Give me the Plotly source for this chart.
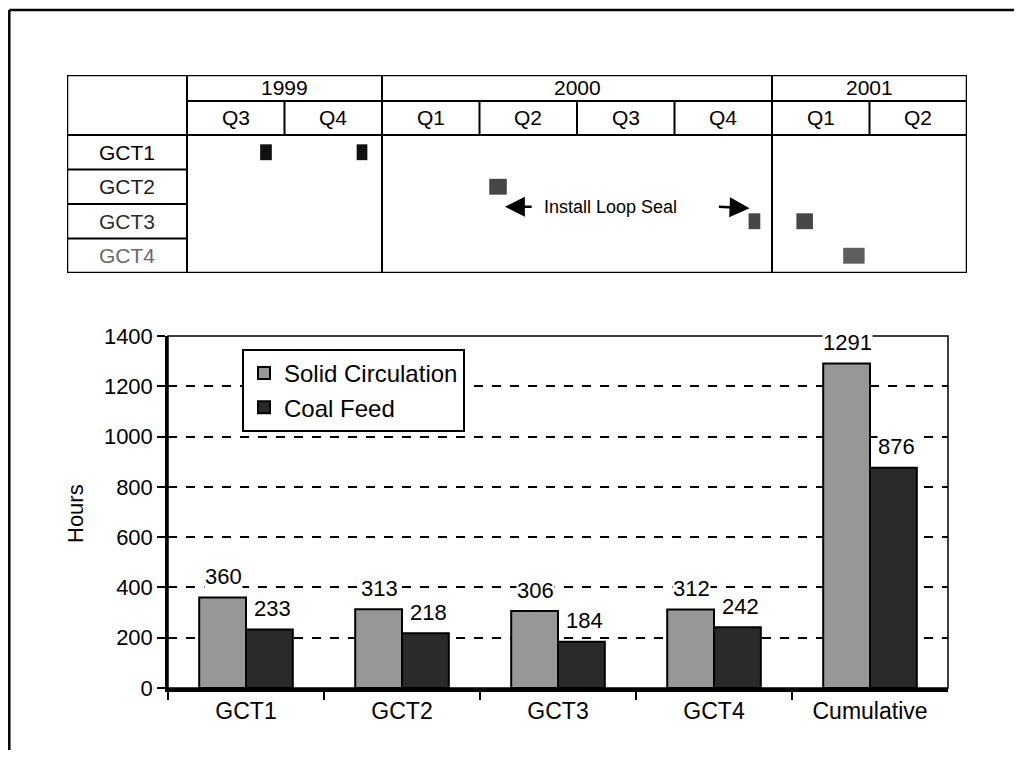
import plotly.graph_objects as go

# ---------------- data ----------------
categories = ["GCT1", "GCT2", "GCT3", "GCT4", "Cumulative"]
solid_circulation = [360, 313, 306, 312, 1291]
coal_feed = [233, 218, 184, 242, 876]

units = ["GCT1", "GCT2", "GCT3", "GCT4"]
unit_label_colors = ["#000000", "#1e1e1e", "#2e2e2e", "#6a6a6a"]
years = ["1999", "2000", "2001"]
year_quarter_counts = [2, 4, 2]
quarters = ["Q3", "Q4", "Q1", "Q2", "Q3", "Q4", "Q1", "Q2"]

# test campaigns, in quarters counted from the start of Q3 1999
test_unit = ["GCT1", "GCT1", "GCT2", "GCT3", "GCT3", "GCT4"]
test_start_q = [0.75, 1.74, 3.10, 5.76, 6.25, 6.73]
test_end_q = [0.87, 1.85, 3.28, 5.88, 6.42, 6.95]
test_colors = ["#111111", "#111111", "#474747", "#474747", "#474747", "#5e5e5e"]

loop_seal_label = "Install Loop Seal"
loop_seal_start_q = 3.26
loop_seal_end_q = 5.77

# ---------------- layout helpers ----------------
OX, OY = 8, 8                 # page body margin
W, H = 1014, 742
FONT = "Liberation Sans, Arial, Helvetica, sans-serif"


def px_x(p):
    return (p - OX) / W


def px_y(p):
    return 1 - (p - OY) / H


n_q = len(quarters)
label_col = -1.2308          # label column width in quarter units
n_units = len(units)
q_row_top = n_units + 0.986
y_row_top = q_row_top + 0.753

fig = go.Figure()

# ---------------- bar chart ----------------
fig.add_trace(go.Bar(
    name="Solid Circulation", x=categories, y=solid_circulation,
    marker=dict(color="#979797", line=dict(color="black", width=2)),
    legendgroup="a",
))
fig.add_trace(go.Bar(
    name="Coal Feed", x=categories, y=coal_feed,
    marker=dict(color="#2a2a2a", line=dict(color="black", width=2)),
    legendgroup="b",
))

# ---------------- gantt markers in table ----------------
unit_row = {u: n_units - 1 - i + 0.5 for i, u in enumerate(units)}
fig.add_trace(go.Bar(
    orientation="h",
    y=[unit_row[u] for u in test_unit],
    base=test_start_q,
    x=[e - s for s, e in zip(test_start_q, test_end_q)],
    width=0.46,
    marker=dict(color=test_colors, line=dict(width=0)),
    xaxis="x2", yaxis="y2", showlegend=False, hoverinfo="skip",
))

shapes = []
# outer image frame (top and left)
frame_left = 1.3 / W
shapes.append(dict(type="line", xref="paper", yref="paper", x0=frame_left, x1=1.0,
                   y0=px_y(10), y1=px_y(10), line=dict(color="black", width=2.5)))
shapes.append(dict(type="line", xref="paper", yref="paper", x0=frame_left, x1=frame_left,
                   y0=px_y(10), y1=0, line=dict(color="black", width=2.5)))
# plot frame
shapes.append(dict(type="rect", xref="x domain", yref="y domain", x0=0, x1=1, y0=0, y1=1,
                   line=dict(color="black", width=1.5), layer="below"))

# table lines
tl = dict(color="black", width=2)
shapes.append(dict(type="rect", xref="x2", yref="y2", x0=label_col, x1=n_q, y0=0, y1=y_row_top,
                   line=dict(color="black", width=2.5)))
shapes.append(dict(type="line", xref="x2", yref="y2", x0=label_col, x1=n_q, y0=n_units, y1=n_units, line=tl))
shapes.append(dict(type="line", xref="x2", yref="y2", x0=0, x1=n_q, y0=q_row_top, y1=q_row_top, line=tl))
for r in range(1, n_units):
    shapes.append(dict(type="line", xref="x2", yref="y2", x0=label_col, x1=0, y0=r, y1=r, line=tl))
shapes.append(dict(type="line", xref="x2", yref="y2", x0=0, x1=0, y0=0, y1=y_row_top, line=tl))
year_bounds = []
acc = 0
for c in year_quarter_counts:
    year_bounds.append((acc, acc + c))
    acc += c
for (a, b) in year_bounds[:-1]:
    shapes.append(dict(type="line", xref="x2", yref="y2", x0=b, x1=b, y0=0, y1=y_row_top, line=tl))
year_edges = {b for (_, b) in year_bounds}
for q in range(1, n_q):
    if q not in year_edges:
        shapes.append(dict(type="line", xref="x2", yref="y2", x0=q, x1=q, y0=n_units, y1=q_row_top, line=tl))

annotations = []
tfont = dict(size=21, color="black", family=FONT)
for yname, (a, b) in zip(years, year_bounds):
    annotations.append(dict(xref="x2", yref="y2", x=(a + b) / 2, y=(q_row_top + y_row_top) / 2,
                            text=yname, showarrow=False, font=tfont))
for i, qn in enumerate(quarters):
    annotations.append(dict(xref="x2", yref="y2", x=i + 0.5, y=(n_units + q_row_top) / 2,
                            text=qn, showarrow=False, font=tfont))
for u, col in zip(units, unit_label_colors):
    annotations.append(dict(xref="x2", yref="y2", x=label_col / 2, y=unit_row[u],
                            text=u, showarrow=False, font=dict(size=21, color=col, family=FONT)))

# loop seal arrows + label
ly = unit_row["GCT3"] + 0.42
annotations.append(dict(xref="x2", yref="y2", x=(loop_seal_start_q + loop_seal_end_q) / 2 - 0.17, y=ly,
                        text=loop_seal_label, showarrow=False,
                        font=dict(size=18, color="black", family=FONT)))
annotations.append(dict(xref="x2", yref="y2", axref="x2", ayref="y2",
                        x=loop_seal_start_q, y=ly, ax=loop_seal_start_q + 0.29, ay=ly,
                        text="", showarrow=True, arrowhead=2, arrowsize=1.6, arrowwidth=2.5,
                        arrowcolor="black"))
annotations.append(dict(xref="x2", yref="y2", axref="x2", ayref="y2",
                        x=loop_seal_end_q, y=ly - 0.04, ax=loop_seal_end_q - 0.33, ay=ly,
                        text="", showarrow=True, arrowhead=2, arrowsize=1.6, arrowwidth=2.5,
                        arrowcolor="black"))

# bar value labels (white background breaks the dashed grid like the original)
lfont = dict(size=22, color="black", family=FONT)
for c, v in zip(categories, solid_circulation):
    annotations.append(dict(xref="x", yref="y", x=c, y=v, xshift=-23, yshift=21,
                            text=str(v), showarrow=False, font=lfont, bgcolor="white",
                            xanchor="center", yanchor="middle", borderpad=0))
for c, v in zip(categories, coal_feed):
    annotations.append(dict(xref="x", yref="y", x=c, y=v, xshift=26, yshift=21,
                            text=str(v), showarrow=False, font=lfont, bgcolor="white",
                            xanchor="center", yanchor="middle", borderpad=0))

# y axis title
annotations.append(dict(xref="paper", yref="paper", x=px_x(75), y=px_y(514),
                        xanchor="center", yanchor="middle",
                        text="Hours", textangle=-90, showarrow=False,
                        font=dict(size=22, color="black", family=FONT)))

fig.update_layout(
    width=W, height=H,
    margin=dict(l=0, r=0, t=0, b=0),
    paper_bgcolor="white", plot_bgcolor="white",
    font=dict(family=FONT, color="black"),
    barmode="group", bargap=0.40, bargroupgap=0,
    xaxis=dict(domain=[px_x(168), px_x(948)], type="category",
               showline=True, linecolor="black", linewidth=3.5,
               ticks="outside", tickson="boundaries", ticklen=8, tickwidth=2, tickcolor="black",
               tickfont=dict(size=23, family=FONT), showgrid=False, automargin=False),
    yaxis=dict(domain=[px_y(688), px_y(336)], range=[0, 1400], dtick=200,
               showline=True, linecolor="black", linewidth=2.5,
               ticks="outside", ticklen=8, tickwidth=2, tickcolor="black",
               tickfont=dict(size=22, family=FONT),
               showgrid=True, gridcolor="black", gridwidth=1.5, griddash="dash",
               zeroline=False, automargin=False),
    xaxis2=dict(domain=[px_x(67), px_x(967)], range=[label_col, n_q], anchor="y2",
                visible=False, fixedrange=True),
    yaxis2=dict(domain=[px_y(273), px_y(75)], range=[0, y_row_top], anchor="x2",
                visible=False, fixedrange=True),
    legend=dict(x=px_x(242), y=px_y(349), xanchor="left", yanchor="top",
                bordercolor="black", borderwidth=2, bgcolor="white",
                font=dict(size=24, family=FONT, color="black"), traceorder="normal",
                tracegroupgap=4, entrywidth=205, entrywidthmode="pixels"),
    shapes=shapes, annotations=annotations,
    showlegend=True,
)

fig.write_html("out.html")
